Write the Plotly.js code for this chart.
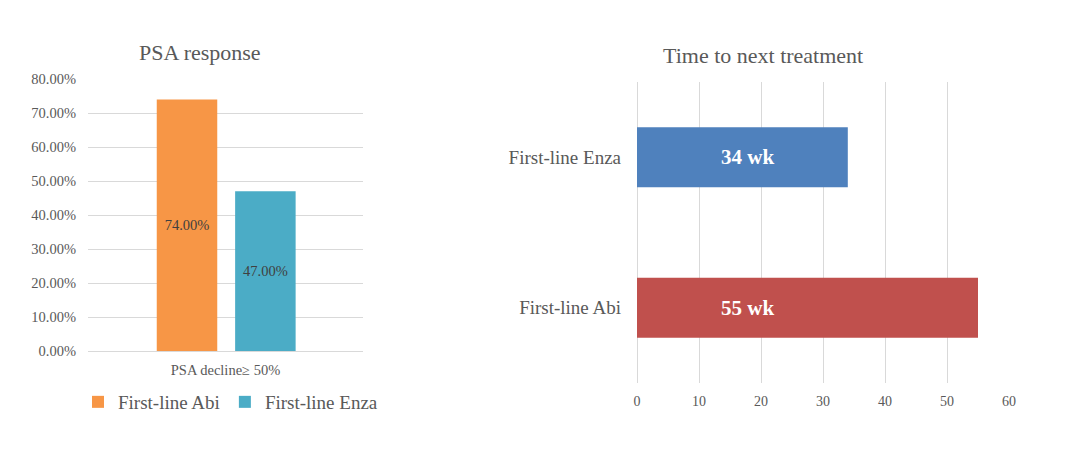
<!DOCTYPE html>
<html><head><meta charset="utf-8">
<script src="https://cdn.plot.ly/plotly-3.0.1.min.js"></script>
<style>html,body{margin:0;padding:0;background:#fff}#chart{width:1080px;height:453px}</style>
</head><body><div id="chart"></div>
<script>
// Left chart: PSA response
const psaCategories = ['PSA decline≥ 50%'];
const psaSeriesNames = ['First-line Abi', 'First-line Enza'];
const psaAbi = [0.74];
const psaEnza = [0.47];
const psaTicks = [0, 0.1, 0.2, 0.3, 0.4, 0.5, 0.6, 0.7, 0.8];

// Right chart: Time to next treatment (weeks)
const ttnCategories = ['First-line Abi', 'First-line Enza'];
const ttnValues = [55, 34];
const ttnTicks = [0, 10, 20, 30, 40, 50, 60];

const serif = 'Liberation Serif, Times New Roman, serif';
const gray = '#595959';
const grid = '#D9D9D9';

const traces = [
  {type:'bar', x:psaCategories, y:psaAbi, name:psaSeriesNames[0], xaxis:'x', yaxis:'y',
   marker:{color:'#F79646'}, width:0.22, offset:-0.25,
   texttemplate:'%{y:.2%}', textposition:'inside', insidetextanchor:'middle',
   textfont:{family:serif, size:14.5, color:'#404040'}, hoverinfo:'none'},
  {type:'bar', x:psaCategories, y:psaEnza, name:psaSeriesNames[1], xaxis:'x', yaxis:'y',
   marker:{color:'#4BACC6'}, width:0.22, offset:0.035,
   texttemplate:'%{y:.2%}', textposition:'inside', insidetextanchor:'middle',
   textfont:{family:serif, size:14.5, color:'#404040'}, hoverinfo:'none'},
  {type:'bar', orientation:'h', y:ttnCategories, x:ttnValues, xaxis:'x2', yaxis:'y2',
   marker:{color:['#C0504D', '#4F81BD']}, showlegend:false, hoverinfo:'none'}
];

const labelX = Math.min(...ttnValues) / 2 + 0.75;
const annotations = [
  {text:'PSA response', xref:'paper', yref:'paper', x:200/1080, y:1-52/453, xanchor:'center', yanchor:'middle',
   showarrow:false, font:{family:serif, size:22, color:gray}},
  {text:'Time to next treatment', xref:'paper', yref:'paper', x:763/1080, y:1-56/453, xanchor:'center', yanchor:'middle',
   showarrow:false, font:{family:serif, size:22, color:gray}}
];
ttnCategories.forEach((c, i) => {
  annotations.push({text:'<b>' + ttnValues[i] + ' wk</b>', xref:'x2', yref:'y2', x:labelX, y:c,
    xanchor:'center', yanchor:'middle', showarrow:false, font:{family:serif, size:21, color:'#FFFFFF'}});
});

const layout = {
  width:1080, height:453, margin:{l:0, r:0, t:0, b:0},
  paper_bgcolor:'#fff', plot_bgcolor:'#fff',
  barmode:'overlay', bargap:0.6,
  font:{family:serif, color:gray},
  showlegend:true,
  legend:{orientation:'h', x:78/1080, xanchor:'left', y:1-402/453, yanchor:'middle',
    font:{family:serif, size:19, color:gray}, itemwidth:30, tracegroupgap:0, bgcolor:'rgba(0,0,0,0)'},
  xaxis:{domain:[88/1080, 363/1080], type:'category', range:[-0.5, 0.5], showgrid:false, zeroline:false,
    showline:false, ticks:'', ticklabelstandoff:8, tickfont:{family:serif, size:14.5, color:gray}, fixedrange:true},
  yaxis:{domain:[1-351/453, 1-79/453], range:[0, 0.8], tickvals:psaTicks, tickformat:'.2%',
    showgrid:true, gridcolor:grid, gridwidth:1, zeroline:true, zerolinecolor:grid, zerolinewidth:1,
    showline:false, ticks:'', ticklabelstandoff:11, tickfont:{family:serif, size:14.5, color:gray}, fixedrange:true},
  xaxis2:{domain:[637/1080, 1009/1080], range:[0, 60], tickvals:ttnTicks, anchor:'y2',
    showgrid:true, gridcolor:grid, gridwidth:1, zeroline:true, zerolinecolor:grid, zerolinewidth:1,
    showline:false, ticks:'', ticklabelstandoff:8, tickfont:{family:serif, size:14, color:gray}, fixedrange:true},
  yaxis2:{domain:[1-383/453, 1-82/453], type:'category', anchor:'x2', showgrid:false, zeroline:false,
    showline:false, ticks:'', ticklabelstandoff:15, tickfont:{family:serif, size:19, color:gray}, fixedrange:true},
  annotations:annotations
};

Plotly.newPlot('chart', traces, layout, {staticPlot:true, displayModeBar:false});
</script>
</body></html>
